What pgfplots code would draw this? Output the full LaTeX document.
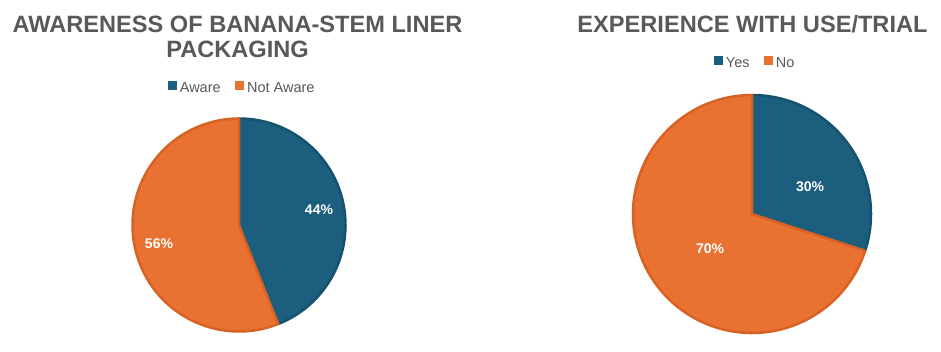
\documentclass[border=0pt]{standalone}
\usepackage{fontspec}
\setmainfont{Liberation Sans}
\usepackage{pgfplots}
\usepackage{pgfplotstable}
\pgfplotsset{compat=1.18}
\definecolor{pieblue}{RGB}{27,94,126}
\definecolor{pieblueedge}{RGB}{22,82,110}
\definecolor{pieorange}{RGB}{233,114,50}
\definecolor{pieorangeedge}{RGB}{214,98,36}
\definecolor{titlegray}{RGB}{89,89,89}

\pgfplotstableread[col sep=comma]{
label,value
Aware,44
Not Aware,56
}\awareness
\pgfplotstableread[col sep=comma]{
label,value
Yes,30
No,70
}\experience

\pgfplotsset{
  pieaxis/.style={x=1pt,y=1pt,xmin=-130,xmax=130,ymin=-130,ymax=130,
    hide axis,clip=false,anchor=center,
    legend columns=2,
    legend style={draw=none,fill=none,font=\fontsize{14.5}{17}\selectfont,
      text=titlegray,anchor=center,inner sep=0pt,
      nodes={inner sep=1.5pt},
      /tikz/every odd column/.append style={column sep=2pt},
      /tikz/every even column/.append style={column sep=13pt}},
    legend image code/.code={\fill[##1] (0pt,-1pt) rectangle (8pt,7pt);},
  },
}
\tikzset{
  slice/.style={line width=2.5pt,line join=round},
  lbl/.style={text=white,font=\fontsize{14}{16}\selectfont\bfseries},
}

\begin{document}
\begin{tikzpicture}
\useasboundingbox (0,0) rectangle (941pt,352pt);
\node[anchor=base,inner sep=0pt,text=titlegray,font=\fontsize{23.6}{28}\selectfont\bfseries]
  at (237.5pt,319pt) {AWARENESS OF BANANA-STEM LINER};
\node[anchor=base,inner sep=0pt,text=titlegray,font=\fontsize{23.6}{28}\selectfont\bfseries]
  at (237.5pt,294pt) {PACKAGING};
\node[anchor=base,inner sep=0pt,text=titlegray,font=\fontsize{23.6}{28}\selectfont\bfseries]
  at (752.5pt,319pt) {EXPERIENCE WITH USE/TRIAL};

\pgfplotstablegetelem{0}{value}\of\awareness
\pgfmathsetmacro\aA{\pgfplotsretval}
\pgfmathsetmacro\angA{90-3.6*\aA}
\pgfmathsetmacro\exA{106.5*cos(\angA)}
\pgfmathsetmacro\eyA{106.5*sin(\angA)}
\begin{axis}[pieaxis,at={(239pt,127pt)},legend style={at={(0.5115,1.027)}}]
\addlegendimage{pieblue}
\addlegendentry{Aware}
\addlegendimage{pieorange}
\addlegendentry{Not Aware}
\filldraw[slice,fill=pieblue,draw=pieblueedge] (axis cs:0,0) -- (axis cs:0,106.5)
  arc[start angle=90,end angle=\angA,radius=106.5pt] -- cycle;
\filldraw[slice,fill=pieorange,draw=pieorangeedge] (axis cs:0,0) -- (axis cs:\exA,\eyA)
  arc[start angle=\angA,end angle=-270,radius=106.5pt] -- cycle;
\node[lbl] at (axis cs:80,15) {44\%};
\node[lbl] at (axis cs:-80,-19) {56\%};
\end{axis}

\pgfplotstablegetelem{0}{value}\of\experience
\pgfmathsetmacro\aB{\pgfplotsretval}
\pgfmathsetmacro\angB{90-3.6*\aB}
\pgfmathsetmacro\exB{119*cos(\angB)}
\pgfmathsetmacro\eyB{119*sin(\angB)}
\begin{axis}[pieaxis,at={(752pt,138pt)},legend style={at={(0.5115,1.081)}}]
\addlegendimage{pieblue}
\addlegendentry{Yes}
\addlegendimage{pieorange}
\addlegendentry{No}
\filldraw[slice,fill=pieblue,draw=pieblueedge] (axis cs:0,0) -- (axis cs:0,119)
  arc[start angle=90,end angle=\angB,radius=119pt] -- cycle;
\filldraw[slice,fill=pieorange,draw=pieorangeedge] (axis cs:0,0) -- (axis cs:\exB,\eyB)
  arc[start angle=\angB,end angle=-270,radius=119pt] -- cycle;
\node[lbl] at (axis cs:58,27) {30\%};
\node[lbl] at (axis cs:-42,-35) {70\%};
\end{axis}
\end{tikzpicture}
\end{document}
